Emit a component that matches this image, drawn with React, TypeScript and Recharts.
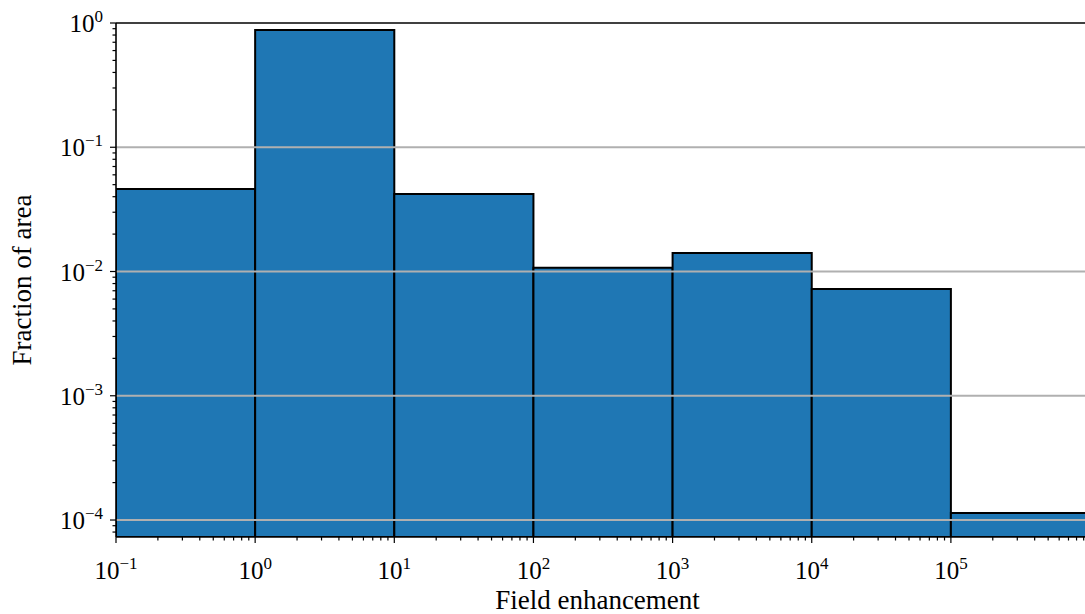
import React from 'react';
import { ComposedChart, XAxis, YAxis, ReferenceArea, ReferenceLine, Label } from 'recharts';

// histogram bins (field enhancement decades) and fraction of area per bin
const binEdges = [0.1, 1, 10, 100, 1e3, 1e4, 1e5, 1e6];
const fractions = [0.0462, 0.878, 0.042, 0.0107, 0.0141, 0.00724, 1.14e-4];

const xMajorTicks = [0.1, 1, 10, 100, 1e3, 1e4, 1e5];
const yMajorTicks = [1e-4, 1e-3, 1e-2, 1e-1, 1];
const gridLines = [1e-4, 1e-3, 1e-2, 1e-1];

const X_DOMAIN: [number, number] = [0.1, 9.2e5];
const Y_DOMAIN: [number, number] = [7.3e-5, 1];

const FONT = '"Liberation Serif", serif';
const BAR_COLOR = '#1f77b4';

const withMinor = (majors: number[], domain: [number, number]) => {
  const out: number[] = [];
  const lo = Math.floor(Math.log10(domain[0])) - 1;
  const hi = Math.ceil(Math.log10(domain[1]));
  for (let e = lo; e <= hi; e++) {
    for (let m = 1; m <= 9; m++) {
      const v = m * Math.pow(10, e);
      if (v >= domain[0] * 0.9999 && v <= domain[1] * 1.0001) out.push(Number(v.toPrecision(6)));
    }
  }
  majors.forEach(v => { if (!out.includes(v)) out.push(v); });
  return out.sort((a, b) => a - b);
};

const xTicks = withMinor(xMajorTicks, X_DOMAIN);
const yTicks = withMinor(yMajorTicks, Y_DOMAIN);

const isMajor = (v: number) => {
  const l = Math.log10(v);
  return Math.abs(l - Math.round(l)) < 1e-6;
};

const expLabel = (v: number) => {
  const e = Math.round(Math.log10(v));
  return e < 0 ? `\u2212${-e}` : `${e}`;
};

const YTick = (props: any) => {
  const { x, y, payload } = props;
  const major = isMajor(payload.value);
  return (
    <g>
      <line x1={x} x2={x - (major ? 6 : 3.5)} y1={y} y2={y} stroke="#000" strokeWidth={1.2} />
      {major && (
        <text x={x - 13} y={y + 9} textAnchor="end" fontFamily={FONT} fontSize={25} fill="#000">
          10<tspan dy={-10} fontSize={17}>{expLabel(payload.value)}</tspan>
        </text>
      )}
    </g>
  );
};

const XTick = (props: any) => {
  const { x, y, payload } = props;
  const major = isMajor(payload.value);
  return (
    <g>
      <line x1={x} x2={x} y1={y} y2={y + (major ? 6 : 3.5)} stroke="#000" strokeWidth={1.2} />
      {major && (
        <text x={x} y={y + 42} textAnchor="middle" fontFamily={FONT} fontSize={25} fill="#000">
          10<tspan dy={-10} fontSize={17}>{expLabel(payload.value)}</tspan>
        </text>
      )}
    </g>
  );
};

export default function App() {
  return (
    <div style={{ position: 'absolute', left: 0, top: 0, width: 1085, height: 614, background: '#fff' }}>
      <ComposedChart width={1085} height={614} margin={{ top: 23, right: 0, left: 0, bottom: 0 }}
        data={binEdges.slice(0, -1).map((x0, i) => ({ x: x0, frac: fractions[i] }))}>
        <XAxis type="number" dataKey="x" scale="log" domain={X_DOMAIN} allowDataOverflow ticks={xTicks}
          interval={0} height={77} tickSize={0} tickMargin={0} tick={<XTick />}
          axisLine={{ stroke: '#000', strokeWidth: 1.6 }} tickLine={false}>
          <Label content={(p: any) => (
            <text x={p.viewBox.x + p.viewBox.width / 2 - 3} y={609} textAnchor="middle"
              fontFamily={FONT} fontSize={27} fill="#000">Field enhancement</text>
          )} />
        </XAxis>
        <YAxis type="number" scale="log" domain={Y_DOMAIN} allowDataOverflow ticks={yTicks}
          interval={0} width={116} tickSize={0} tickMargin={0} tick={<YTick />}
          axisLine={{ stroke: '#000', strokeWidth: 1.6 }} tickLine={false}>
          <Label content={(p: any) => {
            const cy = p.viewBox.y + p.viewBox.height / 2;
            return (
              <text x={22} y={cy} transform={`rotate(-90 22 ${cy})`} textAnchor="middle"
                dominantBaseline="central" fontFamily={FONT} fontSize={27} fill="#000">Fraction of area</text>
            );
          }} />
        </YAxis>
        {fractions.map((f, i) => (
          <ReferenceArea key={i} x1={binEdges[i]} x2={binEdges[i + 1]} y1={Y_DOMAIN[0]} y2={f}
            ifOverflow="hidden" fill={BAR_COLOR} fillOpacity={1} stroke="#000" strokeWidth={2} />
        ))}
        {gridLines.map(g => (
          <ReferenceLine key={g} y={g} stroke="#b0b0b0" strokeWidth={2} />
        ))}
        <ReferenceLine y={Y_DOMAIN[1]} stroke="#000" strokeWidth={1.6} />
      </ComposedChart>
    </div>
  );
}
